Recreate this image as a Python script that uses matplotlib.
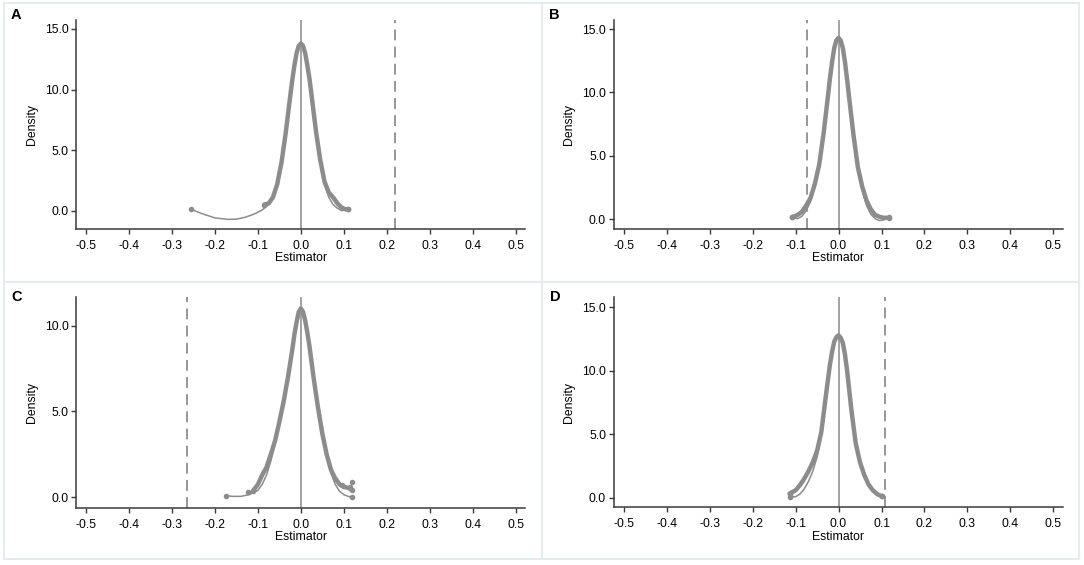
import numpy as np
import matplotlib
matplotlib.use('Agg')
import matplotlib.pyplot as plt
from matplotlib.lines import Line2D

plt.rcParams['font.family'] = ['Liberation Sans', 'DejaVu Sans']
plt.rcParams['axes.unicode_minus'] = False

# valores
panel_letters = ['A', 'B', 'C', 'D']
x_ticks = [-0.5, -0.4, -0.3, -0.2, -0.1, 0.0, 0.1, 0.2, 0.3, 0.4, 0.5]
x_tick_labels = ['-0.5', '-0.4', '-0.3', '-0.2', '-0.1', '0.0', '0.1', '0.2', '0.3', '0.4', '0.5']
y_ticks_abd = [0.0, 5.0, 10.0, 15.0]
y_ticks_c = [0.0, 5.0, 10.0]
observed = [0.22, -0.073, -0.266, 0.107]

# Painel A
a_x = [-0.085, -0.075, -0.065, -0.055, -0.045, -0.035, -0.025, -0.02, -0.015, -0.01, -0.005, 0.0,
       0.005, 0.01, 0.015, 0.02, 0.025, 0.035, 0.045, 0.055, 0.065, 0.075, 0.085, 0.095, 0.105, 0.11]
a_y = [0.5, 0.6, 1.1, 2.2, 4.0, 6.5, 9.4, 10.8, 12.0, 13.0, 13.6, 13.8,
       13.6, 13.0, 12.0, 10.9, 9.5, 6.6, 4.2, 2.4, 1.5, 1.1, 0.6, 0.25, 0.1, 0.1]
a_fit_x = [-0.255, -0.23, -0.2, -0.17, -0.15, -0.13, -0.11, -0.09, -0.075, -0.065, -0.055,
           -0.045, -0.035, -0.025, -0.02, -0.015, -0.01, -0.005, 0.0, 0.005, 0.01, 0.015, 0.02,
           0.025, 0.035, 0.045, 0.055, 0.065, 0.075, 0.085, 0.095, 0.105, 0.11]
a_fit_y = [0.1, -0.25, -0.6, -0.72, -0.7, -0.55, -0.3, 0.05, 0.5, 1.0, 2.0,
           3.8, 6.4, 9.3, 10.7, 11.9, 12.9, 13.5, 13.7, 13.5, 12.9, 11.9, 10.7,
           9.4, 6.5, 4.0, 2.2, 1.1, 0.5, 0.2, 0.0, 0.05, 0.1]

# Painel B
b_x = [-0.108, -0.095, -0.085, -0.075, -0.065, -0.055, -0.045, -0.035, -0.025, -0.02, -0.015,
       -0.01, -0.005, 0.0, 0.005, 0.01, 0.015, 0.02, 0.025, 0.035, 0.045, 0.055, 0.065, 0.075,
       0.085, 0.095, 0.105, 0.118]
b_y = [0.15, 0.35, 0.6, 1.1, 1.7, 2.8, 4.3, 6.7, 9.6, 11.1, 12.4,
       13.5, 14.1, 14.3, 14.1, 13.5, 12.4, 11.0, 9.5, 6.6, 4.1, 2.6, 1.5, 0.8,
       0.35, 0.2, 0.12, 0.12]
b_fit_x = b_x
b_fit_y = [0.15, 0.05, 0.25, 0.7, 1.4, 2.6, 4.2, 6.6, 9.5, 11.0, 12.3,
           13.4, 14.0, 14.2, 14.0, 13.4, 12.3, 10.9, 9.4, 6.5, 4.0, 2.3, 1.1, 0.4,
           0.05, -0.1, -0.05, 0.15]

# Painel C
c_x = [-0.112, -0.1, -0.09, -0.08, -0.07, -0.06, -0.05, -0.04, -0.03, -0.02, -0.015, -0.01,
       -0.005, 0.0, 0.005, 0.01, 0.015, 0.02, 0.03, 0.04, 0.05, 0.06, 0.07, 0.08, 0.09, 0.1,
       0.11, 0.12]
c_y = [0.35, 0.75, 1.3, 1.75, 2.5, 3.3, 4.4, 5.6, 7.0, 8.6, 9.5, 10.2,
       10.8, 11.0, 10.8, 10.3, 9.6, 8.8, 6.9, 5.2, 3.7, 2.5, 1.6, 1.1, 0.75, 0.6,
       0.55, 0.4]
c_fit_x = [-0.174, -0.16, -0.14, -0.12, -0.1, -0.09, -0.08, -0.07, -0.06, -0.05, -0.04, -0.03,
           -0.02, -0.015, -0.01, -0.005, 0.0, 0.005, 0.01, 0.015, 0.02, 0.03, 0.04, 0.05, 0.06,
           0.07, 0.08, 0.09, 0.1, 0.11, 0.12]
c_fit_y = [0.1, 0.05, 0.05, 0.15, 0.4, 0.75, 1.3, 2.1, 3.1, 4.3, 5.7, 7.2,
           8.8, 9.6, 10.2, 10.7, 10.9, 10.7, 10.2, 9.5, 8.7, 7.0, 5.3, 3.7, 2.4,
           1.4, 0.75, 0.35, 0.15, 0.05, 0.0]
c_pts_x = [-0.123, 0.095, 0.115, 0.12]
c_pts_y = [0.3, 0.73, 0.6, 0.9]

# Painel D
d_x = [-0.114, -0.1, -0.09, -0.08, -0.07, -0.06, -0.05, -0.04, -0.03, -0.02, -0.015, -0.01,
       -0.005, 0.0, 0.005, 0.01, 0.015, 0.02, 0.03, 0.04, 0.05, 0.06, 0.07, 0.08, 0.09, 0.1]
d_y = [0.35, 0.6, 1.0, 1.5, 2.1, 2.8, 3.7, 5.2, 7.9, 10.5, 11.5, 12.3,
       12.65, 12.8, 12.6, 12.2, 11.3, 10.0, 6.9, 4.3, 2.8, 1.8, 1.05, 0.6, 0.3, 0.15]
d_fit_x = d_x
d_fit_y = [0.1, 0.1, 0.3, 0.7, 1.3, 2.1, 3.2, 4.9, 7.6, 10.3, 11.4, 12.2,
           12.6, 12.8, 12.6, 12.2, 11.3, 10.0, 6.9, 4.3, 2.8, 1.8, 1.05, 0.6, 0.3, 0.15]

curves = [(a_x, a_y, a_fit_x, a_fit_y), (b_x, b_y, b_fit_x, b_fit_y),
          (c_x, c_y, c_fit_x, c_fit_y), (d_x, d_y, d_fit_x, d_fit_y)]
y_limits = [(-1.49, 15.74), (-0.74, 15.71), (-0.61, 11.65), (-0.71, 15.79)]

W, H = 1084, 565
fig = plt.figure(figsize=(W / 100, H / 100), dpi=100)

# posicoes dos eixos em pixels (esquerda, direita, base, topo)
boxes = [(76.4, 525.1, 228.7, 20.0), (613.9, 1062.9, 228.7, 20.0),
         (76.4, 525.1, 507.7, 297.3), (613.9, 1062.9, 507.0, 297.3)]
letter_pos = [(16, 15), (554, 15), (17, 297), (555, 297)]

# molduras claras dos paineis
borda = '#e3ecf0'
for xv in [4, 541.5, 1079]:
    fig.add_artist(Line2D([xv / W, xv / W], [1 - 3 / H, 1 - 559 / H], color=borda, lw=1.5))
for yv in [3, 281.5, 559]:
    fig.add_artist(Line2D([4 / W, 1079 / W], [1 - yv / H, 1 - yv / H], color=borda, lw=1.5))

cinza = '#8c8c8c'
for i in range(4):
    l, r, b, t = boxes[i]
    ax = fig.add_axes([l / W, 1 - b / H, (r - l) / W, (b - t) / H])
    xs, ys, fx, fy = curves[i]
    ax.axvline(0.0, color='#a3a3a3', lw=1.4, zorder=1)
    ax.axvline(observed[i], color='#8f8f8f', lw=1.3, ls=(0, (6, 3.5)), zorder=1)
    ax.plot(fx, fy, color=cinza, lw=1.1, zorder=2)
    ax.plot(xs, ys, color=cinza, lw=3.2, solid_capstyle='round', solid_joinstyle='round', zorder=3)
    ax.plot([fx[0], fx[-1], xs[0], xs[-1]], [fy[0], fy[-1], ys[0], ys[-1]],
            'o', color=cinza, ms=3, zorder=4)
    if i == 2:
        ax.plot(c_pts_x, c_pts_y, 'o', color=cinza, ms=3, zorder=4)

    ax.set_xlim(-0.5226, 0.522)
    ax.set_ylim(*y_limits[i])
    ax.set_xticks(x_ticks)
    ax.set_xticklabels(x_tick_labels)
    yt = y_ticks_c if i == 2 else y_ticks_abd
    ax.set_yticks(yt)
    ax.set_yticklabels(['%.1f' % v for v in yt])
    for s in ['top', 'right']:
        ax.spines[s].set_visible(False)
    for s in ['left', 'bottom']:
        ax.spines[s].set_color('#3a3a3a')
        ax.spines[s].set_linewidth(1.1)
    ax.tick_params(axis='x', direction='out', length=3.8, width=1, color='#3a3a3a',
                   pad=4, labelsize=8.7)
    ax.tick_params(axis='y', direction='out', length=3.6, width=1, color='#3a3a3a',
                   pad=2, labelsize=8.7)
    ax.set_xlabel('Estimator', fontsize=8.8, labelpad=0.5)
    ax.set_ylabel('Density', fontsize=8.8, labelpad=5)
    ax.set_facecolor('none')

    lx, ly = letter_pos[i]
    fig.text(lx / W, 1 - ly / H, panel_letters[i], fontsize=10.5, fontweight='bold',
             ha='center', va='center')

fig.savefig('out.png', dpi=100)
